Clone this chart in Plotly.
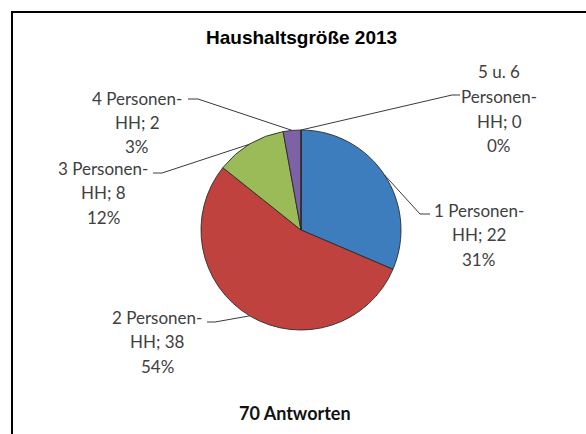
import math
import plotly.graph_objects as go

# data
labels = ["1 Personen-HH", "2 Personen-HH", "3 Personen-HH", "4 Personen-HH", "5 u. 6 Personen-HH"]
label_lines = [["1 Personen-", "HH; "], ["2 Personen-", "HH; "], ["3 Personen-", "HH; "],
               ["4 Personen-", "HH; "], ["5 u. 6", "Personen-", "HH; "]]
values = [22, 38, 8, 2, 0]
percents = [31, 54, 12, 3, 0]
colors = ["#3D7DBE", "#BF423E", "#9BBB59", "#7E62A6", "#4BACC6"]
title = "Haushaltsgröße 2013"
footer = "70 Antworten"

W, H = 586, 434
CX, CY, R = 301, 230, 100  # pie centre / radius in pixels
LINE_GAP = 24.5

def px(x):
    return x / W

def py(y):
    return 1 - y / H

fig = go.Figure(go.Pie(
    labels=labels, values=values, sort=False, direction="clockwise",
    marker=dict(colors=colors, line=dict(color="#2b2b2b", width=0.9)),
    textinfo="none", hoverinfo="label+value+percent", showlegend=False,
    domain=dict(x=[px(CX - R), px(CX + R)], y=[py(CY + R), py(CY - R)]),
))

# label blocks (centre x, first line y) and where the leader line leaves the text
label_pos = [(479, 210), (157, 317), (103, 168), (137, 98), (499, 72)]
line_start = [(430, 214), (207, 322), (153, 173), (188, 99), (460, 95)]
hook = [-10, 8, 9, 10, -8]

shapes = []
annotations = []
total = sum(values)
cum = 0
for i, v in enumerate(values):
    mid = (cum + v / 2) / total * 2 * math.pi
    cum += v
    ex = CX + R * math.sin(mid)
    ey = CY - R * math.cos(mid)
    sx, sy = line_start[i]
    hx = sx + hook[i]
    path = f"M {px(sx)} {py(sy)} L {px(hx)} {py(sy)} L {px(ex)} {py(ey)}"
    shapes.append(dict(type="path", path=path, xref="paper", yref="paper",
                       line=dict(color="#3a3a3a", width=1)))
    lines = list(label_lines[i])
    lines[-1] = lines[-1] + str(v)
    lines.append(f"{percents[i]}%")
    lx, ly = label_pos[i]
    for k, t in enumerate(lines):
        annotations.append(dict(text=t, x=px(lx), y=py(ly + k * LINE_GAP),
                                xref="paper", yref="paper", showarrow=False,
                                xanchor="center", yanchor="middle",
                                font=dict(family="Lato", size=17, color="#404040")))

annotations.append(dict(text=f"<b>{title}</b>", x=px(301), y=py(38), xref="paper", yref="paper",
                        showarrow=False, xanchor="center", yanchor="middle",
                        font=dict(family="Liberation Sans", size=19, color="#000000")))
annotations.append(dict(text=f"<b>{footer}</b>", x=px(295), y=py(413), xref="paper", yref="paper",
                        showarrow=False, xanchor="center", yanchor="middle",
                        font=dict(family="Lato", size=18, color="#111111")))

# chart frame (cut off at the right and bottom like the original)
shapes.append(dict(type="rect", xref="paper", yref="paper",
                   x0=px(12), x1=px(W + 10), y0=py(H + 10), y1=py(12),
                   line=dict(color="#000000", width=2)))

fig.update_layout(
    width=W, height=H, margin=dict(l=0, r=0, t=0, b=0),
    paper_bgcolor="white", plot_bgcolor="white",
    shapes=shapes, annotations=annotations,
)

fig.write_html("out.html", config={"displayModeBar": False},
               post_script="document.body.style.margin='0px';")
